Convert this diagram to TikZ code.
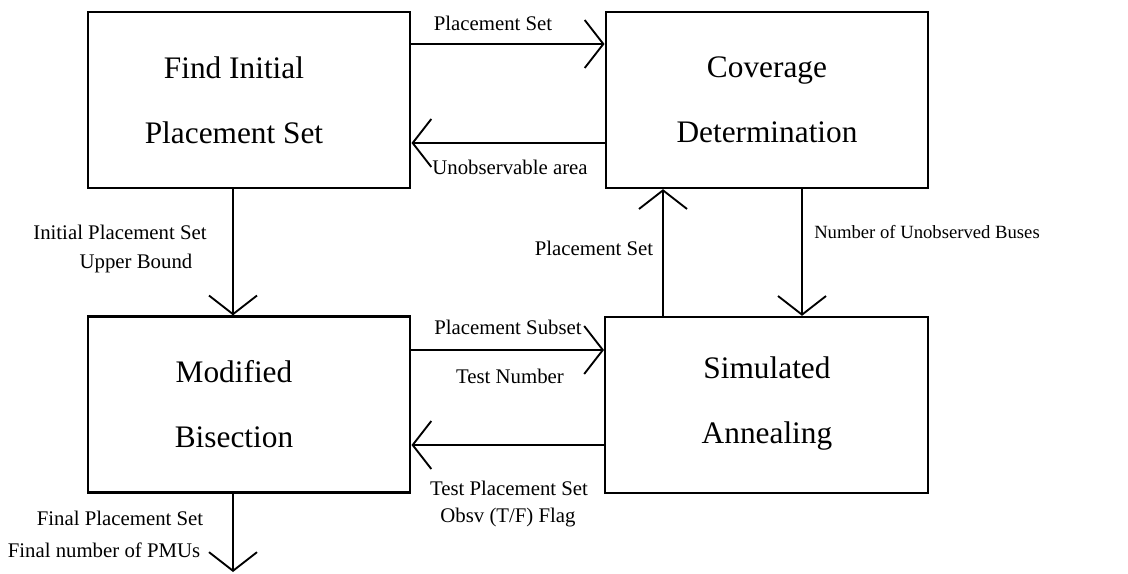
\documentclass[tikz,border=0pt]{standalone}
\usepackage{fontspec}
\setmainfont{Liberation Serif}
\usetikzlibrary{arrows.meta}

\tikzset{
  box/.style={draw,line width=1.7pt,minimum width=242pt,minimum height=132pt,inner sep=0pt},
  boxtxt/.style={align=center,inner sep=0pt,font=\fontsize{23.5}{48.75}\selectfont},
  lbl/.style={inner sep=0pt,font=\fontsize{15.6}{18}\selectfont},
  arr/.style={line width=1.4pt,-{Straight Barb[length=14pt,width=36pt,line width=1.4pt]}}
}

\begin{document}
\begin{tikzpicture}[x=0.75pt,y=0.75pt,yscale=-1,xscale=1]
\useasboundingbox (0,0) rectangle (1128,574);

% Boxes
\node[box] (b1) at (249,100) {};
\node[box] (b2) at (767,100) {};
\node[box] (b3) at (249,404.5) {};
\node[box] (b4) at (766.5,405) {};

% Box texts
\node[boxtxt] (t1) at (234,100) {Find Initial\\Placement Set};
\node[boxtxt] (t2) at (767,100) {Coverage\\Determination};
\node[boxtxt] (t3) at (234,404) {Modified\\Bisection};
\node[boxtxt] (t4) at (767,404) {Simulated\\Annealing};

% Free end of the output
\coordinate (out) at (233,572);

% Connectors
\draw[arr] (b1.east |- 0,44) -- (b2.west |- 0,44);
\draw[arr] (b2.west |- 0,143) -- (b1.east |- 0,143);
\draw[arr] (b1.south -| 233,0) -- (b3.north -| 233,0);
\draw[arr] (b4.north -| 663,0) -- (b2.south -| 663,0);
\draw[arr] (b2.south -| 802,0) -- (b4.north -| 802,0);
\draw[arr] (b3.east |- 0,350) -- (b4.west |- 0,350);
\draw[arr] (b4.west |- 0,445) -- (b3.east |- 0,445);
\draw[arr] (b3.south -| out) -- (out);

% Labels
\node[lbl] (l1) at (493,23) {Placement Set};
\node[lbl] (l2) at (510,167) {Unobservable area};
\node[lbl] (l3) at (120,232) {Initial Placement Set};
\node[lbl] (l4) at (136,263) {Upper Bound};
\node[lbl] (l5) at (594,248) {Placement Set};
\node[lbl,font=\fontsize{14}{18}\selectfont] (l6) at (927,232) {Number of Unobserved Buses};
\node[lbl] (l7) at (508,327) {Placement Subset};
\node[lbl] (l8) at (510,376) {Test Number};
\node[lbl] (l9) at (509,488) {Test Placement Set};
\node[lbl] (l10) at (508,518) {Obsv (T/F) Flag};
\node[lbl] (l11) at (120,518) {Final Placement Set};
\node[lbl] (l12) at (104,550) {Final number of PMUs};

\end{tikzpicture}
\end{document}
